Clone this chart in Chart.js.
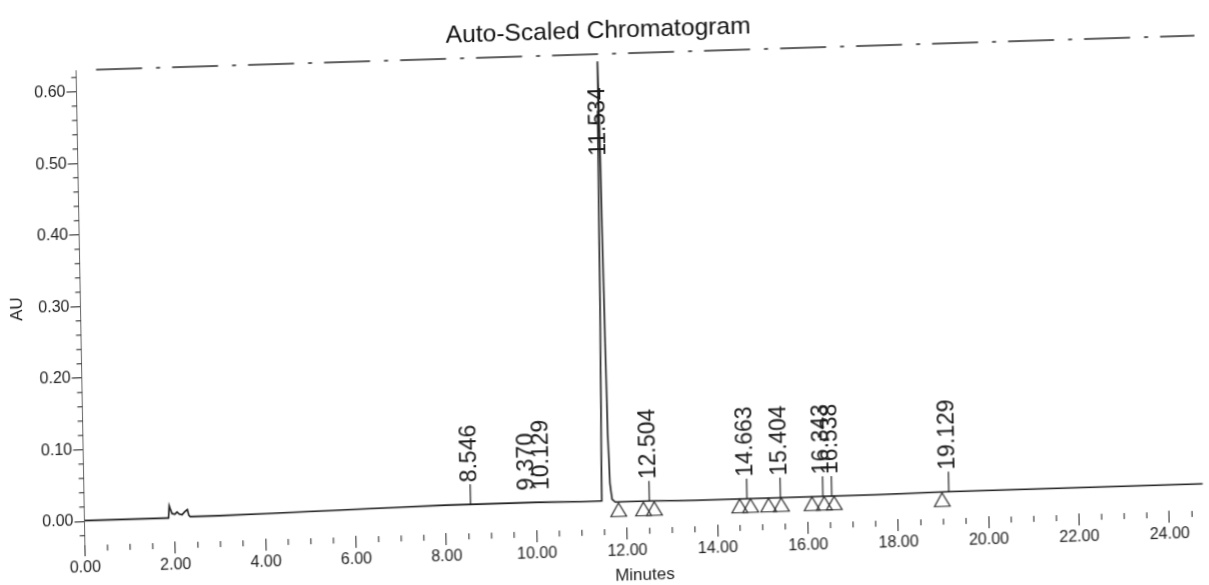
<!DOCTYPE html>
<html>
<head>
<meta charset="utf-8">
<script src="https://cdn.jsdelivr.net/npm/chart.js@4"></script>
<style>
  html, body { margin: 0; padding: 0; background: #ffffff; overflow: hidden; }
  #wrap { position: relative; width: 1209px; height: 585px; transform: matrix(1, -0.031, 0.0186, 1, 0, 0); transform-origin: 50% 50%; }
</style>
</head>
<body>
<div id="wrap"><canvas id="c"></canvas></div>
<script>
// ---- data ----
const timeMin = [0.00, 1.00, 1.86, 1.88, 1.90, 1.94, 2.00, 2.05, 2.10, 2.16, 2.22, 2.28, 2.31, 2.34, 3.00, 4.00, 5.00, 6.00, 7.00, 8.00, 8.546, 9.00, 10.00, 11.00, 11.45, 11.49, 11.52, 11.534, 11.55, 11.58, 11.61, 11.64, 11.68, 11.75, 12.50, 13.50, 14.66, 15.40, 16.34, 17.50, 19.13, 20.50, 22.00, 23.00, 24.75];
const signalAU = [0.001, 0.001, 0.001, 0.018, 0.014, 0.007, 0.006, 0.009, 0.006, 0.005, 0.009, 0.012, 0.004, 0.002, 0.002, 0.003, 0.004, 0.005, 0.006, 0.007, 0.007, 0.007, 0.007, 0.006, 0.006, 0.25, 0.55, 0.62, 0.55, 0.30, 0.10, 0.03, 0.008, 0.004, 0.004, 0.003, 0.003, 0.003, 0.003, 0.003, 0.004, 0.004, 0.004, 0.004, 0.004];

const peakLabels  = ['8.546', '9.370', '10.129', '11.534', '12.504', '14.663', '15.404', '16.343', '16.538', '19.129'];
const peakTimes   = [8.546, 9.370, 10.129, 11.534, 12.504, 14.663, 15.404, 16.343, 16.538, 19.129];
const peakHeights = [0.007, 0.007, 0.007, 0.62, 0.004, 0.003, 0.003, 0.003, 0.003, 0.004];

const markerTimes  = [11.82, 12.37, 12.61, 14.50, 14.74, 15.14, 15.42, 16.10, 16.37, 16.59, 18.98];
const markerValues = [-0.010, -0.010, -0.010, -0.010, -0.010, -0.010, -0.010, -0.010, -0.010, -0.010, -0.010];

const xTickLabels = ['0.00', '2.00', '4.00', '6.00', '8.00', '10.00', '12.00', '14.00', '16.00', '18.00', '20.00', '22.00', '24.00'];
const yTickLabels = ['0.00', '0.10', '0.20', '0.30', '0.40', '0.50', '0.60'];

const chartTitle = 'Auto-Scaled Chromatogram';
const xTitle = 'Minutes';
const yTitle = 'AU';

// ---- drawing helpers ----
const INK = '#1c1c1c';
const FONT = "'Liberation Sans', Arial, sans-serif";

const peakLabelPlugin = {
  id: 'peakLabels',
  afterDatasetsDraw(chart, args, opts) {
    const { ctx, chartArea, scales: { x, y } } = chart;
    ctx.save();
    ctx.font = opts.font;
    ctx.fillStyle = INK;
    ctx.strokeStyle = INK;
    ctx.lineWidth = 1.2;
    peakTimes.forEach((t, i) => {
      const label = peakLabels[i];
      const px = x.getPixelForValue(t) + (opts.nudge[label] || 0);
      const py = y.getPixelForValue(peakHeights[i]);
      const w = ctx.measureText(label).width;
      let start;
      if (py - opts.lineLen - opts.gap - w < chartArea.top) {
        start = py + opts.insideOffset + w;
      } else if (opts.noLine.includes(label)) {
        start = py - opts.floatGap;
      } else {
        ctx.beginPath();
        ctx.moveTo(px, py);
        ctx.lineTo(px, py - opts.lineLen);
        ctx.stroke();
        start = py - opts.lineLen - opts.gap;
      }
      ctx.save();
      ctx.translate(px, start);
      ctx.rotate(-Math.PI / 2);
      ctx.textAlign = 'left';
      ctx.textBaseline = 'middle';
      ctx.fillText(label, 0, 0);
      ctx.restore();
    });
    ctx.restore();
  }
};

const frameAndMinorTicks = {
  id: 'frameAndMinorTicks',
  afterDraw(chart) {
    const { ctx, chartArea, scales: { x, y } } = chart;
    ctx.save();
    ctx.strokeStyle = INK;
    ctx.lineWidth = 1;
    // minor x ticks every 0.5 min
    for (let k = 1; k <= 49; k++) {
      if (k % 4 === 0) continue;
      const px = x.getPixelForValue(k * 0.5);
      if (px > chartArea.right) break;
      ctx.beginPath();
      ctx.moveTo(px, chartArea.bottom + 1);
      ctx.lineTo(px, chartArea.bottom + 7);
      ctx.stroke();
    }
    // minor y ticks every 0.02 AU
    for (let k = -1; k <= 31; k++) {
      if (k % 5 === 0) continue;
      const py = y.getPixelForValue(k * 0.02);
      ctx.beginPath();
      ctx.moveTo(chartArea.left - 5, py);
      ctx.lineTo(chartArea.left, py);
      ctx.stroke();
    }
    // faded top frame line
    ctx.strokeStyle = '#2a2a2a';
    ctx.lineWidth = 1.6;
    ctx.setLineDash([46, 14, 4, 12]);
    ctx.beginPath();
    ctx.moveTo(chartArea.left + 20, chartArea.top);
    ctx.lineTo(chartArea.right, chartArea.top);
    ctx.stroke();
    ctx.restore();
  }
};

const signalPoints = timeMin.map((t, i) => ({ x: t, y: signalAU[i] }));
const markerPoints = markerTimes.map((t, i) => ({ x: t, y: markerValues[i] }));

new Chart(document.getElementById('c'), {
  type: 'scatter',
  data: {
    datasets: [
      {
        label: 'Signal',
        data: signalPoints,
        showLine: true,
        borderColor: INK,
        borderWidth: 1.6,
        pointRadius: 0,
        tension: 0,
        fill: false
      },
      {
        label: 'Integration marks',
        data: markerPoints,
        showLine: false,
        pointStyle: 'triangle',
        pointRadius: 9,
        borderColor: '#2a2a2a',
        borderWidth: 1.2,
        backgroundColor: 'rgba(255,255,255,0)'
      }
    ]
  },
  options: {
    responsive: true,
    maintainAspectRatio: false,
    animation: false,
    devicePixelRatio: 1,
    layout: { padding: { left: 0, right: 3, top: 0, bottom: 0 } },
    plugins: {
      legend: { display: false },
      tooltip: { enabled: false },
      title: {
        display: true,
        text: chartTitle,
        color: '#111',
        font: { family: FONT, size: 24.6, weight: 'normal' },
        padding: { top: 16.5, bottom: 8 }
      },
      peakLabels: {
        font: "23px 'Liberation Sans', Arial, sans-serif",
        lineLen: 20,
        gap: 2,
        insideOffset: 26,
        floatGap: 12,
        noLine: ['9.370', '10.129'],
        nudge: { '9.370': 20 }
      }
    },
    scales: {
      x: {
        type: 'linear',
        min: 0,
        max: 24.75,
        afterBuildTicks: s => { s.ticks = xTickLabels.map(l => ({ value: parseFloat(l) })); },
        afterFit: s => { s.height = 57; },
        ticks: {
          callback: (v, i) => xTickLabels[i],
          autoSkip: false,
          maxRotation: 0,
          padding: 2,
          color: INK,
          font: { family: FONT, size: 16 }
        },
        grid: { drawOnChartArea: false, drawTicks: true, tickLength: 12, color: INK },
        border: { display: false },
        title: {
          display: true,
          text: xTitle,
          color: INK,
          font: { family: FONT, size: 17, lineHeight: 1 },
          padding: { top: 0, bottom: 0 }
        }
      },
      y: {
        type: 'linear',
        min: -0.032,
        max: 0.63,
        afterBuildTicks: s => { s.ticks = yTickLabels.map(l => ({ value: parseFloat(l) })); },
        afterFit: s => { s.width = 80.5; },
        ticks: {
          callback: (v, i) => yTickLabels[i],
          padding: 1,
          color: INK,
          font: { family: FONT, size: 16 }
        },
        grid: { drawOnChartArea: false, drawTicks: true, tickLength: 10, color: INK },
        border: { display: true, color: '#666', width: 1, dash: [3, 3] },
        title: {
          display: true,
          text: yTitle,
          color: INK,
          font: { family: FONT, size: 17, lineHeight: 1 },
          padding: { top: 9, bottom: 0 }
        }
      }
    }
  },
  plugins: [peakLabelPlugin, frameAndMinorTicks]
});
</script>
</body>
</html>
